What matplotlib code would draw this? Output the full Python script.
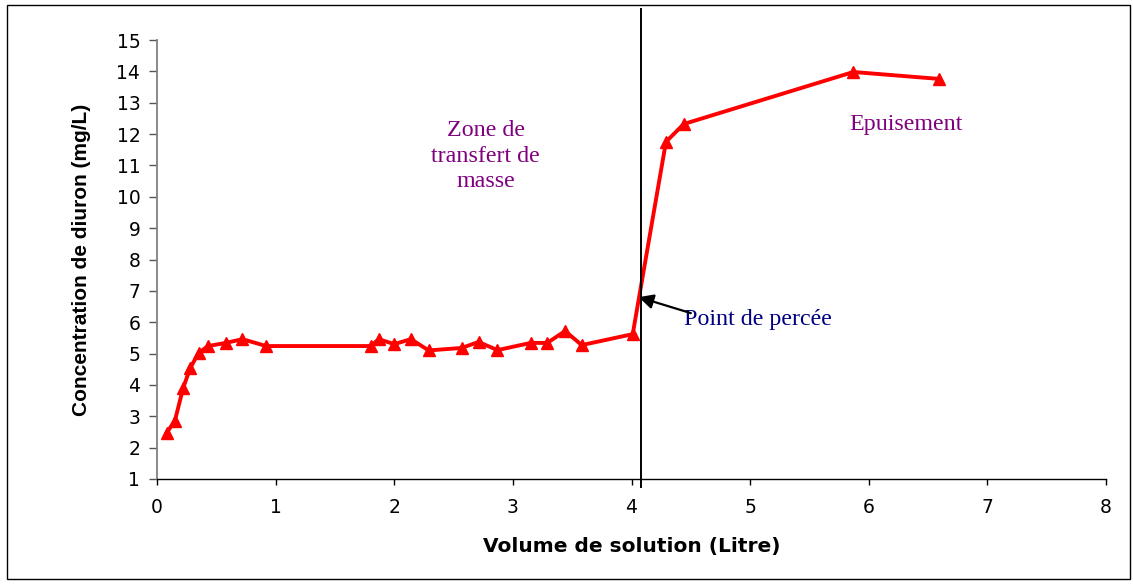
import matplotlib
matplotlib.use("Agg")
import matplotlib.pyplot as plt
from matplotlib.patches import Rectangle

# Breakthrough curve of diuron
volume_l = [0.08, 0.15, 0.22, 0.28, 0.35, 0.43, 0.58, 0.72, 0.92,
            1.80, 1.87, 2.00, 2.14, 2.29, 2.57, 2.71, 2.87, 3.15, 3.29,
            3.44, 3.58, 4.01, 4.29, 4.44, 5.87, 6.59]
conc_mg_l = [2.47, 2.85, 3.90, 4.54, 5.02, 5.24, 5.34, 5.46, 5.24,
             5.24, 5.46, 5.30, 5.46, 5.10, 5.18, 5.37, 5.11, 5.34, 5.34,
             5.72, 5.27, 5.62, 11.75, 12.32, 13.98, 13.76]
breakthrough_x = 4.08
breakthrough_y = 6.8

x_ticks = list(range(0, 9))
y_ticks = list(range(1, 16))

fig = plt.figure(figsize=(11.33, 5.84), dpi=100)
ax = fig.add_axes([0.1386, 0.1798, 0.8376, 0.7517])

ax.plot(volume_l, conc_mg_l, color="#ff0000", lw=2.8, marker="^",
        markersize=8, markerfacecolor="#ff0000", markeredgecolor="#ff0000",
        zorder=3)

# breakthrough vertical line
ax.plot([breakthrough_x, breakthrough_x], [0.74, 16.0], color="black",
        lw=1.4, clip_on=False, zorder=4)

ax.set_xlim(0, 8)
ax.set_ylim(1, 15)
ax.set_xticks(x_ticks)
ax.set_yticks(y_ticks)

for s in ("top", "right"):
    ax.spines[s].set_visible(False)
ax.spines["left"].set_color("#808080")
ax.spines["left"].set_linewidth(1.3)
ax.spines["bottom"].set_color("black")
ax.spines["bottom"].set_linewidth(1.0)

ax.tick_params(axis="y", direction="out", length=6, width=1, color="#555555",
               labelsize=13.5, pad=6)
ax.tick_params(axis="x", direction="out", length=4, width=1, color="black",
               labelsize=13.5, pad=10)
for lab in ax.get_xticklabels() + ax.get_yticklabels():
    lab.set_family("DejaVu Sans")

ax.set_xlabel("Volume de solution (Litre)", family="DejaVu Sans",
              fontweight="bold", fontsize=14.5, labelpad=14)
ax.set_ylabel("Concentration de diuron (mg/L)", family="Liberation Sans",
              fontweight="bold", fontsize=15, labelpad=18)

serif = "Liberation Serif"
ax.text(2.77, 11.3, "Zone de\ntransfert de\nmasse", color="#800080",
        family=serif, fontsize=17.3, ha="center", va="center",
        linespacing=1.3)
ax.text(6.31, 12.3, "Epuisement", color="#800080", family=serif,
        fontsize=17.3, ha="center", va="center")
ax.text(4.44, 6.1, "Point de percée", color="#000080", family=serif,
        fontsize=17.3, ha="left", va="center")
ax.annotate("", xy=(4.06, breakthrough_y), xytext=(4.50, 6.29),
            arrowprops=dict(arrowstyle="-|>", color="black", lw=1.6,
                            mutation_scale=22, shrinkA=0, shrinkB=0))

fig.patches.append(Rectangle((7 / 1133, 5 / 584), 1123 / 1133, 574 / 584,
                             transform=fig.transFigure, fill=False,
                             edgecolor="black", lw=1.0))

fig.savefig("out.png", dpi=100)
